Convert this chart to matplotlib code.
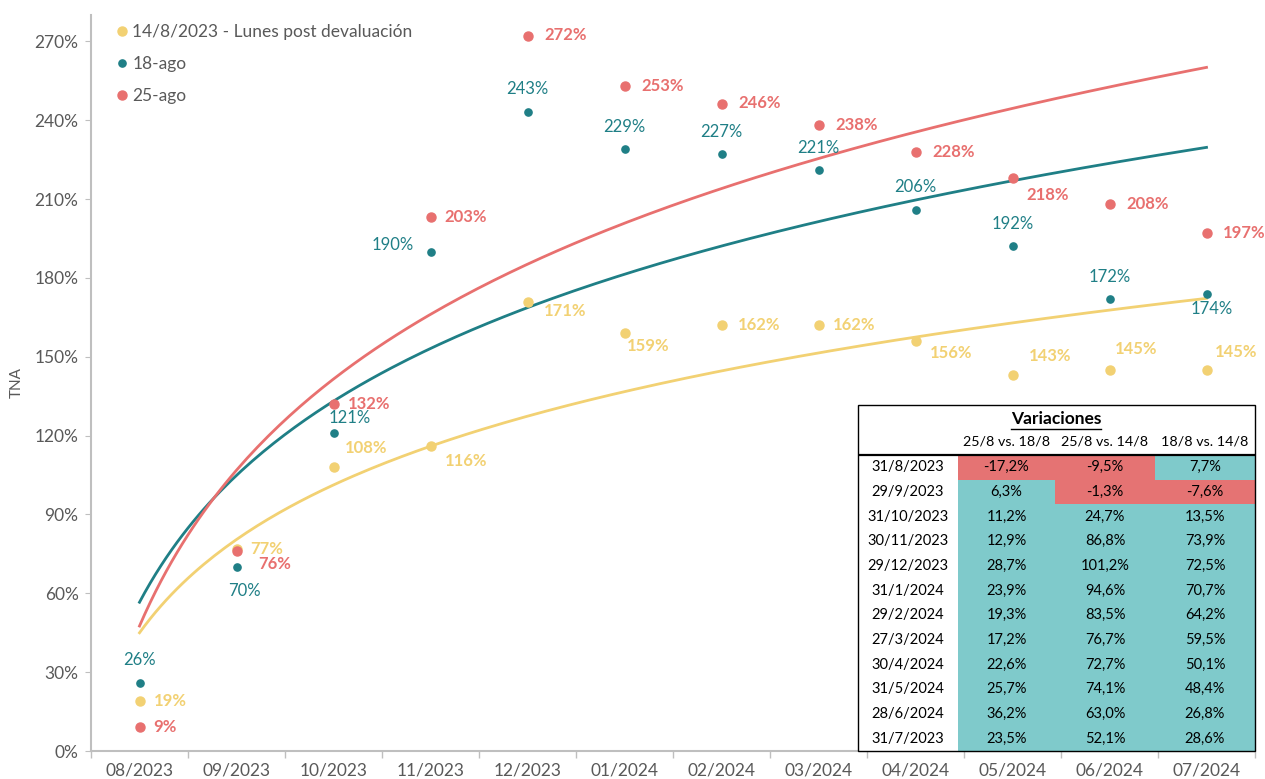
import matplotlib
matplotlib.use("Agg")
import matplotlib.pyplot as plt
import numpy as np
from matplotlib.patches import Rectangle
from matplotlib.ticker import FixedLocator, NullFormatter

plt.rcParams["font.family"] = ["Lato", "DejaVu Sans"]

# ---- data -------------------------------------------------------------
months = ["08/2023", "09/2023", "10/2023", "11/2023", "12/2023", "01/2024",
          "02/2024", "03/2024", "04/2024", "05/2024", "06/2024", "07/2024"]
tna_14ago = [19, 77, 108, 116, 171, 159, 162, 162, 156, 143, 145, 145]
tna_18ago = [26, 70, 121, 190, 243, 229, 227, 221, 206, 192, 172, 174]
tna_25ago = [9, 76, 132, 203, 272, 253, 246, 238, 228, 218, 208, 197]

series_names = ["14/8/2023 - Lunes post devaluación", "18-ago", "25-ago"]

table_dates = ["31/8/2023", "29/9/2023", "31/10/2023", "30/11/2023", "29/12/2023",
               "31/1/2024", "29/2/2024", "27/3/2024", "30/4/2024", "31/5/2024",
               "28/6/2024", "31/7/2023"]
table_headers = ["25/8 vs. 18/8", "25/8 vs. 14/8", "18/8 vs. 14/8"]
var_25_18 = [-17.2, 6.3, 11.2, 12.9, 28.7, 23.9, 19.3, 17.2, 22.6, 25.7, 36.2, 23.5]
var_25_14 = [-9.5, -1.3, 24.7, 86.8, 101.2, 94.6, 83.5, 76.7, 72.7, 74.1, 63.0, 52.1]
var_18_14 = [7.7, -7.6, 13.5, 73.9, 72.5, 70.7, 64.2, 59.5, 50.1, 48.4, 26.8, 28.6]

# ---- style -------------------------------------------------------------
YELLOW = "#F2D173"
TEAL = "#1F7F86"
RED = "#E8706F"
CELL_TEAL = "#7FCACB"
CELL_RED = "#E57373"
GREY = "#BFBFBF"
TXT = "#595959"

fig = plt.figure(figsize=(12.65, 7.79), dpi=100)
ax = fig.add_axes([91 / 1265, 1 - 751 / 779, 1164 / 1265, 736 / 779])

x = np.arange(len(months))

# logarithmic trendlines (Excel style: y = a*ln(k) + b, k = 1..n)
xs = np.linspace(1, len(months), 200)
for vals, col in [(tna_14ago, YELLOW), (tna_18ago, TEAL), (tna_25ago, RED)]:
    a, b = np.polyfit(np.log(x + 1), vals, 1)
    ax.plot(xs - 1, a * np.log(xs) + b, color=col, lw=2.0, zorder=2)

ax.plot(x, tna_14ago, "o", color=YELLOW, ms=6.5, ls="none", label=series_names[0], zorder=3)
ax.plot(x, tna_18ago, "o", color=TEAL, ms=5.2, ls="none", label=series_names[1], zorder=3)
ax.plot(x, tna_25ago, "o", color=RED, ms=6.5, ls="none", label=series_names[2], zorder=3)

# point labels: offsets in points (dx, dy) and alignment
def lab(i, val, col, dx, dy, ha="left", va="center", bold=False):
    ax.annotate(f"{val}%", (x[i], val), xytext=(dx, dy), textcoords="offset points",
                color=col, fontsize=12, ha=ha, va=va,
                fontweight="bold" if bold else "normal", zorder=4)

yel_off = [(10, 0), (10, 0), (8, 14), (10, -11), (12, -7), (2, -9), (12, 0), (10, 0),
           (10, -9), (12, 14), (4, 15), (6, 13)]
for i, v in enumerate(tna_14ago):
    lab(i, v, YELLOW, *yel_off[i], bold=True)

teal_off = [(0, 16, "center"), (6, -17, "center"), (12, 11, "center"), (-12, 5, "right"),
            (0, 17, "center"), (0, 16, "center"), (0, 16, "center"), (0, 16, "center"),
            (0, 16, "center"), (0, 16, "center"), (0, 16, "center"), (4, -11, "center")]
for i, v in enumerate(tna_18ago):
    dx, dy, ha = teal_off[i]
    lab(i, v, TEAL, dx, dy, ha=ha)

red_off = [(10, 0), (16, -9), (10, 0), (10, 0), (12, 1), (12, 0), (12, 1), (12, 0),
           (12, 0), (10, -12), (12, 0), (12, 0)]
for i, v in enumerate(tna_25ago):
    lab(i, v, RED, *red_off[i], bold=True)

# axes styling
ax.set_xlim(-0.5, len(months) - 0.5)
ax.set_ylim(0, 280)
ax.set_yticks(np.arange(0, 271, 30))
ax.set_yticklabels([f"{v}%" for v in range(0, 271, 30)])
ax.xaxis.set_major_locator(FixedLocator(np.arange(-0.5, len(months), 1)))
ax.xaxis.set_major_formatter(NullFormatter())
ax.xaxis.set_minor_locator(FixedLocator(x))
ax.set_xticklabels(months, minor=True)
ax.tick_params(axis="x", which="major", length=5, color=GREY, width=1)
ax.tick_params(axis="x", which="minor", length=0, labelsize=12.5, labelcolor=TXT, pad=8)
ax.tick_params(axis="y", length=4, color=GREY, labelsize=12.5, labelcolor=TXT, pad=5)
for s in ["top", "right"]:
    ax.spines[s].set_visible(False)
for s in ["left", "bottom"]:
    ax.spines[s].set_color(GREY)
    ax.spines[s].set_linewidth(1.5)
ax.set_ylabel("TNA", fontsize=11, color=TXT, labelpad=8)

leg = ax.legend(loc="upper left", bbox_to_anchor=(0.007, 1.004), frameon=False,
                fontsize=12.5, labelcolor=TXT, handletextpad=0.0, labelspacing=0.92,
                handlelength=1.2, borderaxespad=0.3)

# ---- variations table --------------------------------------------------
tx = fig.add_axes([858 / 1265, 1 - 751 / 779, 397 / 1265, 346 / 779])
tx.set_xlim(0, 397)
tx.set_ylim(346, 0)
tx.axis("off")
tx.add_patch(Rectangle((0, 0), 397, 346, facecolor="white", edgecolor="none", zorder=0))

col_edges = [0, 100, 197, 297, 397]
row_top = 50
row_h = (346 - row_top) / len(table_dates)
columns = [var_25_18, var_25_14, var_18_14]

for r, d in enumerate(table_dates):
    y0 = row_top + r * row_h
    tx.text(50, y0 + row_h / 2, d, ha="center", va="center", fontsize=10.5, color="black")
    for c, vals in enumerate(columns):
        v = vals[r]
        fc = CELL_RED if v < 0 else CELL_TEAL
        tx.add_patch(Rectangle((col_edges[c + 1], y0), col_edges[c + 2] - col_edges[c + 1],
                               row_h, facecolor=fc, edgecolor="none", zorder=1))
        tx.text((col_edges[c + 1] + col_edges[c + 2]) / 2, y0 + row_h / 2,
                f"{v:.1f}%".replace(".", ","), ha="center", va="center",
                fontsize=10.5, color="black", zorder=2)

for c, h in enumerate(table_headers):
    tx.text((col_edges[c + 1] + col_edges[c + 2]) / 2, 37, h, ha="center", va="center",
            fontsize=10.3, color="black")
title = tx.text(198, 14, "Variaciones", ha="center", va="center", fontsize=12.5,
                fontweight="bold", color="black")
tx.plot([0, 397], [row_top, row_top], color="black", lw=1.6, zorder=3)
tx.add_patch(Rectangle((0, 0), 397, 346, facecolor="none", edgecolor="black",
                       lw=1.0, zorder=4, clip_on=False))

# underline the table title
fig.canvas.draw()
bb = title.get_window_extent().transformed(tx.transData.inverted())
tx.plot([bb.x0, bb.x1], [23.5, 23.5], color="black", lw=1.0)

fig.savefig("out.png", dpi=100)
